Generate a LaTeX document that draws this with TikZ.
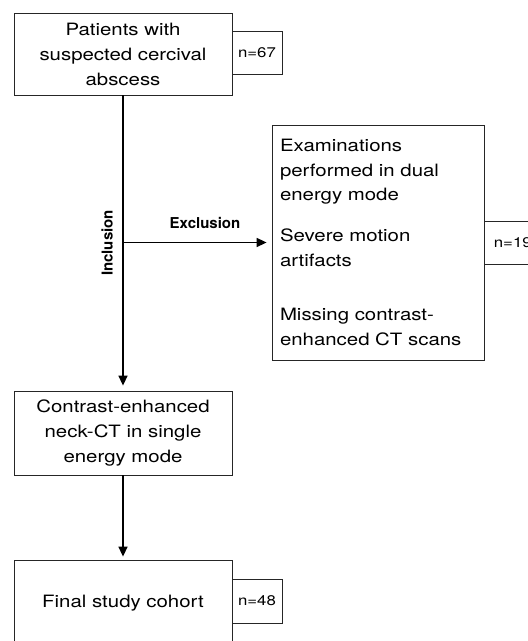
\documentclass[tikz,border=0pt]{standalone}
\usepackage{fontspec}
\usetikzlibrary{arrows.meta}
\newfontfamily\mainf[FakeStretch=1.2]{TeX Gyre Heros}
\newfontfamily\labf{TeX Gyre Heros}
\begin{document}
\begin{tikzpicture}[x=1pt,y=1pt,
  box/.style={draw=black!85,line width=0.8pt,inner sep=0pt,align=center,
    font=\mainf\fontsize{17}{25}\selectfont},
  nbox/.style={draw=black!85,line width=0.8pt,inner sep=0pt,align=center,
    font=\mainf\fontsize{14}{16}\selectfont},
  arr/.style={line width=1.6pt,-{Triangle[length=10pt,width=9pt]}},
  lab/.style={font=\labf\bfseries\fontsize{15}{17}\selectfont}]
\useasboundingbox (0,0) rectangle (528,641);
\node[box,minimum width=218pt,minimum height=82pt] (b1) at (123,587)
  {Patients with\\suspected cercival\\abscess};
\node[nbox,minimum width=50pt,minimum height=43pt] (n1) at (257,588.5) {n=67};
\node[box,minimum width=218pt,minimum height=84pt] (b2) at (123,208)
  {Contrast-enhanced\\neck-CT in single\\energy mode};
\node[box,minimum width=218pt,minimum height=86pt] (b3) at (123,38)
  {Final study cohort};
\node[nbox,minimum width=50pt,minimum height=44pt] (n3) at (257,40) {n=48};
\node[box,minimum width=212pt,minimum height=235pt,text width=196pt,align=left,
  font=\mainf\fontsize{17}{24.5}\selectfont] (ex) at (378,398.5)
  {Examinations\\performed in dual\\energy mode\\[16.5pt]Severe motion\\artifacts\\[30pt]Missing contrast-\\enhanced CT scans};
\node[nbox,minimum width=56pt,minimum height=43pt,anchor=west] (n2) at (ex.east) {n=19};
\coordinate (j) at (b1.south |- ex.west);
\draw[arr,shorten >=5pt] (b1.south) -- (b2.north);
\draw[arr,shorten >=5pt] (j) -- (ex.west);
\draw[arr,shorten >=3pt] (b2.south) -- (b3.north);
\node[lab] (exl) at (205,418) {Exclusion};
\node[lab,rotate=90] (inl) at (107,398) {Inclusion};
\end{tikzpicture}
\end{document}
